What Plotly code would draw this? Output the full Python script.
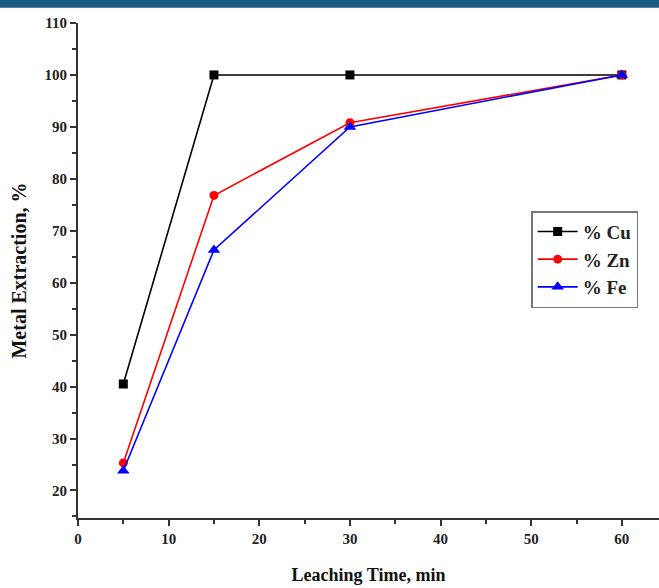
import plotly.graph_objects as go

# leaching time, min
time = [5, 15, 30, 60]

# metal extraction, %
cu = [40.5, 100, 100, 100]
zn = [25.3, 76.8, 90.8, 100]
fe = [23.8, 66.3, 90.0, 100]

series = [
    ("<b>% Cu</b>", cu, "black", "square", 9),
    ("<b>% Zn</b>", zn, "red", "circle", 9),
    ("<b>% Fe</b>", fe, "blue", "triangle-up", 11),
]

fig = go.Figure()
for name, vals, col, sym, size in series:
    fig.add_trace(go.Scatter(
        x=time, y=vals, name=name, mode="lines+markers",
        line=dict(color=col, width=1.6),
        marker=dict(color=col, symbol=sym, size=size),
    ))

axis_font = dict(family="Liberation Serif", size=15, color="#222222", weight="bold")

fig.update_xaxes(
    range=[0, 64.1], tickvals=[0, 10, 20, 30, 40, 50, 60],
    showline=True, linecolor="#333333", linewidth=2.2, mirror=False,
    ticks="outside", ticklen=6, tickwidth=2, tickcolor="#333333",
    minor=dict(ticks="outside", ticklen=4, tickwidth=1.5, tickcolor="#333333", dtick=5),
    showgrid=False, zeroline=False, tickfont=axis_font,
    title=dict(text="<b>Leaching Time, min</b>", standoff=22,
               font=dict(family="Liberation Serif", size=18, color="#111111")),
)
fig.update_yaxes(
    range=[14.7, 110], tickvals=[20, 30, 40, 50, 60, 70, 80, 90, 100, 110],
    showline=True, linecolor="#333333", linewidth=2.2, mirror=False,
    ticks="outside", ticklen=6, tickwidth=2, tickcolor="#333333",
    minor=dict(ticks="outside", ticklen=4, tickwidth=1.5, tickcolor="#333333", dtick=5),
    showgrid=False, zeroline=False, tickfont=axis_font,
    title=dict(text="<b>Metal Extraction, %</b>", standoff=12,
               font=dict(family="Liberation Serif", size=20, color="#111111")),
)

# dark banner strip at the very top of the image
fig.add_shape(type="rect", xref="paper", yref="paper",
              x0=-0.2, x1=1.05, y0=1.031, y1=1.06,
              fillcolor="#1b5b84", line=dict(width=0), layer="above")

fig.update_layout(
    width=659, height=588, autosize=False,
    margin=dict(l=78, r=0, t=23, b=70),
    plot_bgcolor="white", paper_bgcolor="white",
    font=dict(family="Liberation Serif", color="#111111"),
    showlegend=True,
    legend=dict(
        x=0.78, y=0.62, xanchor="left", yanchor="top",
        bordercolor="#777777", borderwidth=1.5, bgcolor="white",
        font=dict(family="Liberation Serif", size=19, color="#222222"),
        itemwidth=40, tracegroupgap=4,
    ),
)

fig.write_html("out.html", config={"displayModeBar": False},
               post_script="document.body.style.margin='0';")
